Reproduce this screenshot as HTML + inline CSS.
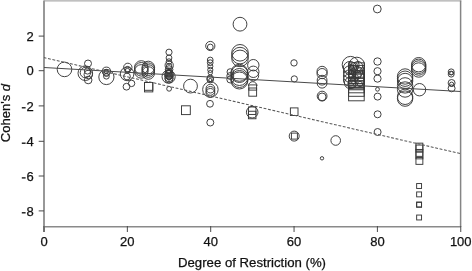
<!DOCTYPE html>
<html><head><meta charset="utf-8"><style>
html,body{margin:0;padding:0;background:#fff;}
body{width:472px;height:271px;overflow:hidden;}
svg{display:block;-webkit-font-smoothing:antialiased;will-change:transform;font-family:"Liberation Sans",sans-serif;}
</style></head><body>
<svg width="472" height="271" viewBox="0 0 472 271">
<rect x="0" y="0" width="472" height="271" fill="#fff"/>
<g stroke="#8a8a8a" fill="none">
<line x1="44" y1="0.9" x2="461.3" y2="0.9" stroke-width="1.4" stroke="#ababab"/>
<line x1="460.6" y1="0.6" x2="460.6" y2="227" stroke-width="1.5" stroke="#858585"/>
<line x1="44" y1="0.6" x2="44" y2="232" stroke-width="2" stroke="#989898"/>
<line x1="43" y1="226.8" x2="461" y2="226.8" stroke-width="1.6"/>
<g stroke-width="1" stroke="#4a4a4a"><line x1="44.00" y1="226" x2="44.00" y2="232"/><line x1="127.35" y1="226" x2="127.35" y2="232"/><line x1="210.70" y1="226" x2="210.70" y2="232"/><line x1="294.05" y1="226" x2="294.05" y2="232"/><line x1="377.40" y1="226" x2="377.40" y2="232"/><line x1="460.75" y1="226" x2="460.75" y2="232"/><line x1="38.7" y1="36.1" x2="44" y2="36.1"/><line x1="38.7" y1="70.7" x2="44" y2="70.7"/><line x1="38.7" y1="105.9" x2="44" y2="105.9"/><line x1="38.7" y1="141.3" x2="44" y2="141.3"/><line x1="38.7" y1="176" x2="44" y2="176"/><line x1="38.7" y1="210.9" x2="44" y2="210.9"/></g>
</g>
<g fill="none" stroke="#383838" stroke-width="0.95">
<circle cx="64.5" cy="69.4" r="7.30"/>
<circle cx="88" cy="63.5" r="3.50"/>
<circle cx="85.3" cy="73.2" r="7.30"/>
<circle cx="85.4" cy="72.6" r="5.20"/>
<circle cx="87.5" cy="71" r="3.10"/>
<circle cx="88.3" cy="74.5" r="4.20"/>
<circle cx="88.2" cy="80" r="3.80"/>
<circle cx="106.4" cy="77" r="7.60"/>
<circle cx="106.4" cy="71.2" r="4.10"/>
<circle cx="106.4" cy="73.5" r="3.00"/>
<circle cx="106.4" cy="76.2" r="2.90"/>
<circle cx="106.2" cy="71.5" r="2.10"/>
<circle cx="127.8" cy="67.4" r="4.20"/>
<circle cx="127.1" cy="73.9" r="6.80"/>
<circle cx="127.6" cy="69.4" r="3.00"/>
<circle cx="127.5" cy="70.8" r="2.40"/>
<circle cx="127" cy="76.5" r="3.40"/>
<circle cx="126.5" cy="86.7" r="3.40"/>
<circle cx="131.6" cy="83.4" r="3.20"/>
<circle cx="141.3" cy="67.5" r="6.80"/>
<circle cx="141.3" cy="69.3" r="6.80"/>
<circle cx="141.3" cy="71.4" r="6.80"/>
<circle cx="148.3" cy="67.5" r="6.30"/>
<circle cx="148.3" cy="69.2" r="6.30"/>
<circle cx="148.3" cy="71" r="6.30"/>
<circle cx="148.3" cy="73" r="6.30"/>
<circle cx="169" cy="52.2" r="3.10"/>
<circle cx="169" cy="57.9" r="2.90"/>
<circle cx="169" cy="61.6" r="2.80"/>
<circle cx="169.2" cy="65.4" r="4.10"/>
<circle cx="169.1" cy="66" r="2.70"/>
<circle cx="169.1" cy="69.5" r="3.80"/>
<circle cx="168.6" cy="76.7" r="6.60"/>
<circle cx="169" cy="74.9" r="4.40"/>
<circle cx="168.8" cy="73.5" r="3.10"/>
<circle cx="169" cy="77.5" r="4.20"/>
<circle cx="169" cy="76.5" r="2.60"/>
<circle cx="168.6" cy="72" r="2.10"/>
<circle cx="169" cy="73.5" r="4.00"/>
<circle cx="169" cy="75.8" r="3.60"/>
<circle cx="169" cy="79" r="4.00"/>
<circle cx="168.8" cy="71.5" r="3.60"/>
<circle cx="169" cy="78" r="2.20"/>
<circle cx="169.1" cy="88.8" r="2.40"/>
<circle cx="190.5" cy="86.1" r="6.90"/>
<circle cx="210.3" cy="46" r="4.60"/>
<circle cx="210.3" cy="47" r="2.90"/>
<circle cx="210.2" cy="60" r="2.90"/>
<circle cx="210.2" cy="62.7" r="2.90"/>
<circle cx="210.3" cy="66.3" r="2.60"/>
<circle cx="210.3" cy="69.9" r="2.60"/>
<circle cx="210.3" cy="72.7" r="2.20"/>
<circle cx="210.2" cy="78.3" r="3.30"/>
<circle cx="210.2" cy="79.5" r="3.30"/>
<circle cx="210.3" cy="80" r="1.60"/>
<circle cx="210.4" cy="89.5" r="7.75"/>
<circle cx="210.4" cy="88.6" r="4.40"/>
<circle cx="210.4" cy="90.9" r="4.40"/>
<circle cx="210.4" cy="92.9" r="4.40"/>
<circle cx="210" cy="103.8" r="3.40"/>
<circle cx="210.3" cy="122.5" r="3.50"/>
<circle cx="240" cy="24.2" r="6.90"/>
<circle cx="240" cy="52.8" r="8.30"/>
<circle cx="240" cy="55.6" r="8.30"/>
<circle cx="240" cy="58.4" r="8.30"/>
<circle cx="239.4" cy="72.8" r="8.50"/>
<circle cx="239.4" cy="74" r="8.50"/>
<circle cx="239.4" cy="77" r="8.50"/>
<circle cx="239.4" cy="79" r="8.50"/>
<circle cx="239.4" cy="80.5" r="8.50"/>
<circle cx="230.3" cy="72" r="3.30"/>
<circle cx="230.3" cy="76" r="3.50"/>
<circle cx="230.3" cy="79.5" r="3.50"/>
<circle cx="253.3" cy="65.2" r="5.70"/>
<circle cx="253.3" cy="71.8" r="5.70"/>
<circle cx="253.3" cy="75.5" r="5.40"/>
<circle cx="252.2" cy="112.2" r="5.80"/>
<circle cx="294" cy="62.9" r="3.20"/>
<circle cx="294.3" cy="78.9" r="3.10"/>
<circle cx="294.2" cy="136.1" r="5.00"/>
<circle cx="322.1" cy="71.4" r="5.10"/>
<circle cx="322.1" cy="73.6" r="5.10"/>
<circle cx="322.1" cy="80.2" r="4.90"/>
<circle cx="322.1" cy="83.2" r="4.90"/>
<circle cx="322.1" cy="96.1" r="4.90"/>
<circle cx="322.1" cy="96.9" r="3.90"/>
<circle cx="335.7" cy="140.5" r="4.80"/>
<circle cx="322" cy="158.3" r="1.70"/>
<circle cx="350.6" cy="64.8" r="8.40"/>
<circle cx="356.8" cy="65" r="7.80"/>
<circle cx="350" cy="68" r="6.60"/>
<circle cx="349.5" cy="72" r="6.10"/>
<circle cx="349.5" cy="76" r="6.10"/>
<circle cx="349.5" cy="80" r="6.10"/>
<circle cx="350" cy="83" r="5.60"/>
<circle cx="353" cy="70" r="4.60"/>
<circle cx="354" cy="66" r="3.60"/>
<circle cx="352" cy="74" r="3.60"/>
<circle cx="355" cy="78" r="3.60"/>
<circle cx="351" cy="67" r="2.60"/>
<circle cx="357" cy="75" r="4.10"/>
<circle cx="354" cy="80" r="3.60"/>
<circle cx="360" cy="84" r="2.60"/>
<circle cx="352" cy="84" r="4.10"/>
<circle cx="358" cy="66" r="4.60"/>
<circle cx="357" cy="72" r="5.60"/>
<circle cx="377.3" cy="9" r="3.90"/>
<circle cx="377.5" cy="61.5" r="3.70"/>
<circle cx="377.5" cy="71.2" r="3.60"/>
<circle cx="377.5" cy="78.6" r="3.60"/>
<circle cx="377.5" cy="89.3" r="1.90"/>
<circle cx="377.6" cy="96.6" r="3.50"/>
<circle cx="377.6" cy="114.3" r="3.50"/>
<circle cx="377.6" cy="132" r="3.50"/>
<circle cx="405.1" cy="76.5" r="7.70"/>
<circle cx="405.1" cy="78.7" r="7.70"/>
<circle cx="405.1" cy="81" r="7.70"/>
<circle cx="405.1" cy="85.4" r="7.70"/>
<circle cx="405.1" cy="89.5" r="7.70"/>
<circle cx="405.1" cy="96.8" r="7.70"/>
<circle cx="405.1" cy="98.6" r="7.70"/>
<circle cx="418.7" cy="64.7" r="7.20"/>
<circle cx="418.7" cy="66.3" r="7.20"/>
<circle cx="418.7" cy="68" r="7.20"/>
<circle cx="418.7" cy="70" r="7.20"/>
<circle cx="419.5" cy="89.7" r="6.20"/>
<circle cx="451.2" cy="71.9" r="3.00"/>
<circle cx="451.2" cy="74.1" r="3.00"/>
<circle cx="451.4" cy="73.2" r="1.70"/>
<circle cx="451.6" cy="83" r="3.50"/>
<circle cx="451.6" cy="84.2" r="2.10"/>
<circle cx="451.6" cy="88.3" r="3.50"/>
<rect x="181.50" y="105.80" width="8.8" height="8.8"/>
<rect x="248.45" y="106.95" width="7.5" height="7.5"/>
<rect x="248.45" y="111.25" width="7.5" height="7.5"/>
<rect x="290.40" y="107.90" width="7.6" height="7.6"/>
<rect x="291.40" y="133.10" width="6.0" height="6.0"/>
<rect x="348.60" y="62.80" width="15.6" height="15.6"/>
<rect x="348.60" y="65.40" width="15.6" height="15.6"/>
<rect x="348.60" y="67.90" width="15.6" height="15.6"/>
<rect x="348.60" y="70.40" width="15.6" height="15.6"/>
<rect x="348.60" y="71.90" width="15.6" height="15.6"/>
<rect x="348.60" y="73.20" width="15.6" height="15.6"/>
<rect x="348.60" y="74.20" width="15.6" height="15.6"/>
<rect x="348.60" y="77.20" width="15.6" height="15.6"/>
<rect x="348.60" y="80.70" width="15.6" height="15.6"/>
<rect x="348.60" y="85.20" width="15.6" height="15.6"/>
<rect x="415.95" y="143.15" width="6.9" height="6.9"/>
<rect x="415.95" y="145.05" width="6.9" height="6.9"/>
<rect x="415.95" y="149.45" width="6.9" height="6.9"/>
<rect x="415.95" y="151.95" width="6.9" height="6.9"/>
<rect x="415.95" y="157.45" width="6.9" height="6.9"/>
<rect x="416.65" y="183.55" width="4.9" height="4.9"/>
<rect x="416.65" y="191.95" width="4.9" height="4.9"/>
<rect x="416.65" y="202.05" width="4.9" height="4.9"/>
<rect x="416.65" y="202.35" width="4.9" height="4.9"/>
<rect x="416.65" y="215.05" width="4.9" height="4.9"/>
<rect x="144.5" y="82.5" width="8.3" height="9.4"/>
<rect x="144.5" y="82.5" width="8.3" height="7.8"/>
<rect x="248.8" y="84.9" width="7.8" height="11.3"/>
<rect x="248.8" y="88.0" width="7.8" height="2.1"/>
<path d="M248.4 86 A4.3 4.3 0 0 1 257 86"/>
</g>
<line x1="44" y1="67.5" x2="460.5" y2="91.5" stroke="#4a4a4a" stroke-width="1"/>
<line x1="44" y1="57.6" x2="460.5" y2="153.6" stroke="#5a5a5a" stroke-width="1.05" stroke-dasharray="2.87 1.645" stroke-dashoffset="0.41"/>
<g font-size="13" fill="#111" stroke="#111" stroke-width="0.25">
<text x="44.00" y="245.7" text-anchor="middle">0</text><text x="127.35" y="245.7" text-anchor="middle">20</text><text x="210.70" y="245.7" text-anchor="middle">40</text><text x="294.05" y="245.7" text-anchor="middle">60</text><text x="377.40" y="245.7" text-anchor="middle">80</text><text x="460.75" y="245.7" text-anchor="middle">100</text>
<text x="33.8" y="40.7" text-anchor="end">2</text><text x="33.8" y="75.3" text-anchor="end">0</text><text x="33.8" y="110.5" text-anchor="end">2</text><line x1="21.8" y1="107.80" x2="25.6" y2="107.80" stroke-width="1.35"/><text x="33.8" y="145.9" text-anchor="end">4</text><line x1="21.8" y1="143.20" x2="25.6" y2="143.20" stroke-width="1.35"/><text x="33.8" y="180.6" text-anchor="end">6</text><line x1="21.8" y1="177.90" x2="25.6" y2="177.90" stroke-width="1.35"/><text x="33.8" y="215.5" text-anchor="end">8</text><line x1="21.8" y1="212.80" x2="25.6" y2="212.80" stroke-width="1.35"/>
<text x="252" y="267.3" text-anchor="middle" font-size="13.2">Degree of Restriction (%)</text>
<text transform="translate(10.2,113.1) rotate(-90)" text-anchor="middle">Cohen's <tspan font-style="italic">d</tspan></text>
</g>
</svg>
</body></html>
